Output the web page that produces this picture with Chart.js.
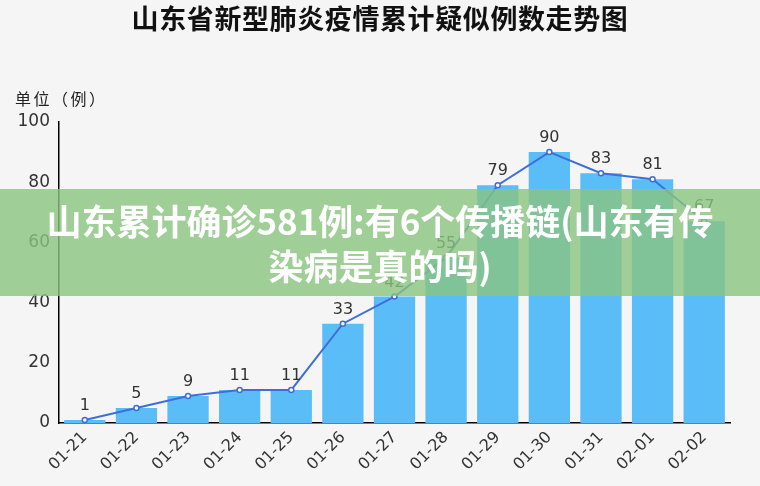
<!DOCTYPE html>
<html>
<head>
<meta charset="utf-8">
<script src="https://cdn.jsdelivr.net/npm/chart.js@4"></script>
<style>
  body { margin: 0; background: #f5f5f5; font-family: "Noto Sans CJK SC", sans-serif; }
  #wrap { position: relative; width: 760px; height: 486px; }
  #title { position: absolute; top: -2px; left: 0; width: 760px; text-align: center; font-size: 27px; letter-spacing: 0.6px; font-weight: bold; color: #111; }
  #unit { position: absolute; top: 86px; left: 15px; font-size: 16px; color: #222; letter-spacing: 2.5px; }
  #band { position: absolute; top: 189px; left: 0; width: 760px; height: 107px; background: rgba(138, 196, 128, 0.8);
          color: #fff; font-weight: bold; font-size: 35px; text-align: center; line-height: 45px; padding-top: 8px; box-sizing: border-box; }
</style>
</head>
<body>
<div id="wrap">
  <canvas id="myChart" width="760" height="486"></canvas>
  <div id="title">山东省新型肺炎疫情累计疑似例数走势图</div>
  <div id="unit">单位（例）</div>
  <div id="band">山东累计确诊581例:有6个传播链(山东有传<br>染病是真的吗)</div>
</div>
<script>
const dates = ["01-21", "01-22", "01-23", "01-24", "01-25", "01-26", "01-27", "01-28", "01-29", "01-30", "01-31", "02-01", "02-02"];
const cases = [1, 5, 9, 11, 11, 33, 42, 55, 79, 90, 83, 81, 67];
const yTicks = [0, 20, 40, 60, 80, 100];

// numbers above the line points
const pointLabels = {
  id: "pointLabels",
  afterDatasetsDraw(chart) {
    const ctx = chart.ctx;
    const meta = chart.getDatasetMeta(0);
    ctx.save();
    ctx.font = "16px 'DejaVu Sans'";
    ctx.fillStyle = "#333";
    ctx.textAlign = "center";
    ctx.textBaseline = "bottom";
    meta.data.forEach((pt, i) => {
      ctx.fillText(cases[i], pt.x, pt.y - 6);
    });
    ctx.restore();
  },
};

new Chart(document.getElementById("myChart"), {
  data: {
    labels: dates,
    datasets: [
      {
        type: "line",
        data: cases,
        borderColor: "#3d6fdc",
        borderWidth: 2,
        pointRadius: 2.5,
        pointBackgroundColor: "#fff",
        pointBorderColor: "#3d6fdc",
        pointBorderWidth: 1.5,
        tension: 0,
        order: 0,
      },
      {
        type: "bar",
        data: cases,
        backgroundColor: "#5bbdf7",
        barPercentage: 0.8,
        categoryPercentage: 1,
        order: 1,
      },
    ],
  },
  options: {
    responsive: false,
    animation: false,
    layout: { padding: { top: 122, right: 30, left: 0, bottom: 0 } },
    plugins: { legend: { display: false }, tooltip: { enabled: false } },
    scales: {
      x: {
        grid: { display: false, drawTicks: false },
        border: { color: "#000", width: 1.5 },
        ticks: { color: "#333", font: { size: 16, family: "DejaVu Sans" }, maxRotation: 45, minRotation: 45, padding: 5 },
        afterFit(s) { s.height = 63; },
      },
      y: {
        min: 0,
        max: 100,
        afterBuildTicks(s) { s.ticks = yTicks.map((v) => ({ value: v })); },
        grid: { display: false, drawTicks: false },
        border: { color: "#000", width: 1.5 },
        ticks: { color: "#333", font: { size: 17, family: "DejaVu Sans" }, padding: 9 },
        afterFit(s) { s.width = 59; },
      },
    },
  },
  plugins: [pointLabels],
});
</script>
</body>
</html>
